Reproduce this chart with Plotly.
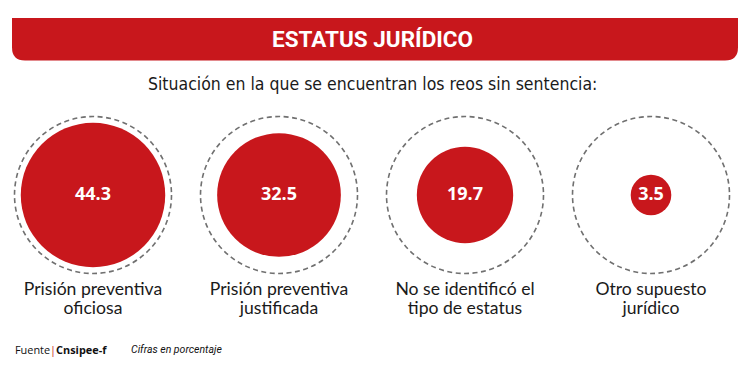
import plotly.graph_objects as go

categories = ["Prisión preventiva<br>oficiosa", "Prisión preventiva<br>justificada",
              "No se identificó el<br>tipo de estatus", "Otro supuesto<br>jurídico"]
values = [44.3, 32.5, 19.7, 3.5]
value_labels = ["44.3", "32.5", "19.7", "3.5"]

title_text = "ESTATUS JURÍDICO"
subtitle_text = "Situación en la que se encuentran los reos sin sentencia:"
source_text = "Fuente<span style='color:#c8171c'>|</span><b>Cnsipee-f</b>"
note_text = "<i>Cifras en porcentaje</i>"

W, H = 750, 385
RED = "#c8171c"
PX = 186.0  # pixels per category unit
CX0, CY0 = 93.0, 195.0  # pixel of category 0 centre
k = 10.85 / PX          # radius per sqrt(value), in axis units
ring_r = 78.5 / PX

xr = [-CX0 / PX, (W - CX0) / PX]
yr = [-(H - CY0) / PX, CY0 / PX]

def py(p):
    return (CY0 - p) / PX

def ppx(x):
    return x / W

def ppy(y):
    return 1 - y / H

COND = "DejaVu Sans Condensed, Liberation Sans Narrow, Roboto, sans-serif"

fig = go.Figure()
shapes = []
for i, v in enumerate(values):
    r = k * v ** 0.5
    shapes.append(dict(type="circle", xref="x", yref="y", x0=i - ring_r, x1=i + ring_r,
                       y0=-ring_r, y1=ring_r, line=dict(color="#707070", width=1.6, dash="5px,3.5px"),
                       fillcolor="rgba(0,0,0,0)", layer="below"))
    shapes.append(dict(type="circle", xref="x", yref="y", x0=i - r, x1=i + r,
                       y0=-r, y1=r, line=dict(width=0), fillcolor=RED, layer="below"))

# banner
bx0, bx1, by0, by1, br = 12, 738, 18, 60.5, 13
path = (f"M {ppx(bx0)},{ppy(by0)} L {ppx(bx1)},{ppy(by0)} L {ppx(bx1)},{ppy(by1-br)} "
        f"Q {ppx(bx1)},{ppy(by1)} {ppx(bx1-br)},{ppy(by1)} L {ppx(bx0+br)},{ppy(by1)} "
        f"Q {ppx(bx0)},{ppy(by1)} {ppx(bx0)},{ppy(by1-br)} Z")
shapes.append(dict(type="path", xref="paper", yref="paper", path=path,
                   fillcolor=RED, line=dict(width=0), layer="below"))

idx = list(range(len(values)))
fig.add_trace(go.Scatter(x=idx, y=[0] * len(idx), mode="text", text=value_labels,
                         textposition="middle center",
                         textfont=dict(family="Open Sans, sans-serif", size=18, color="white", weight="bold"),
                         hoverinfo="skip", showlegend=False))
line1 = [c.split("<br>")[0] for c in categories]
line2 = [c.split("<br>")[1] for c in categories]
for txt, yp in ((line1, 290.5), (line2, 309.5)):
    fig.add_trace(go.Scatter(x=idx, y=[py(yp)] * len(idx), mode="text", text=txt,
                             textposition="middle center",
                             textfont=dict(family="Lato, Open Sans, sans-serif", size=17.6, color="#1a1a1a"),
                             hoverinfo="skip", showlegend=False))

annotations = [
    dict(xref="paper", yref="paper", x=ppx(372), y=ppy(39.5), text=title_text, showarrow=False,
         xanchor="center", yanchor="middle",
         font=dict(family="Roboto, sans-serif", size=22.5, color="white", weight="bold")),
    dict(xref="paper", yref="paper", x=ppx(372), y=ppy(84), text=subtitle_text, showarrow=False,
         xanchor="center", yanchor="middle",
         font=dict(family=COND, size=17.5, color="#1a1a1a")),
    dict(xref="paper", yref="paper", x=ppx(13), y=ppy(349), text=source_text, showarrow=False,
         xanchor="left", yanchor="middle",
         font=dict(family="Open Sans, sans-serif", size=10.9, color="#111")),
    dict(xref="paper", yref="paper", x=ppx(129), y=ppy(349), text=note_text, showarrow=False,
         xanchor="left", yanchor="middle",
         font=dict(family="Roboto, sans-serif", size=10.5, color="#111")),
]

fig.update_layout(width=W, height=H, autosize=False, margin=dict(l=0, r=0, t=0, b=0),
                  paper_bgcolor="white", plot_bgcolor="white",
                  xaxis=dict(range=xr, visible=False, fixedrange=True),
                  yaxis=dict(range=yr, visible=False, fixedrange=True),
                  shapes=shapes, annotations=annotations)
fig.write_html("out.html", config={"displayModeBar": False},
               post_script="document.body.style.margin='0';")
